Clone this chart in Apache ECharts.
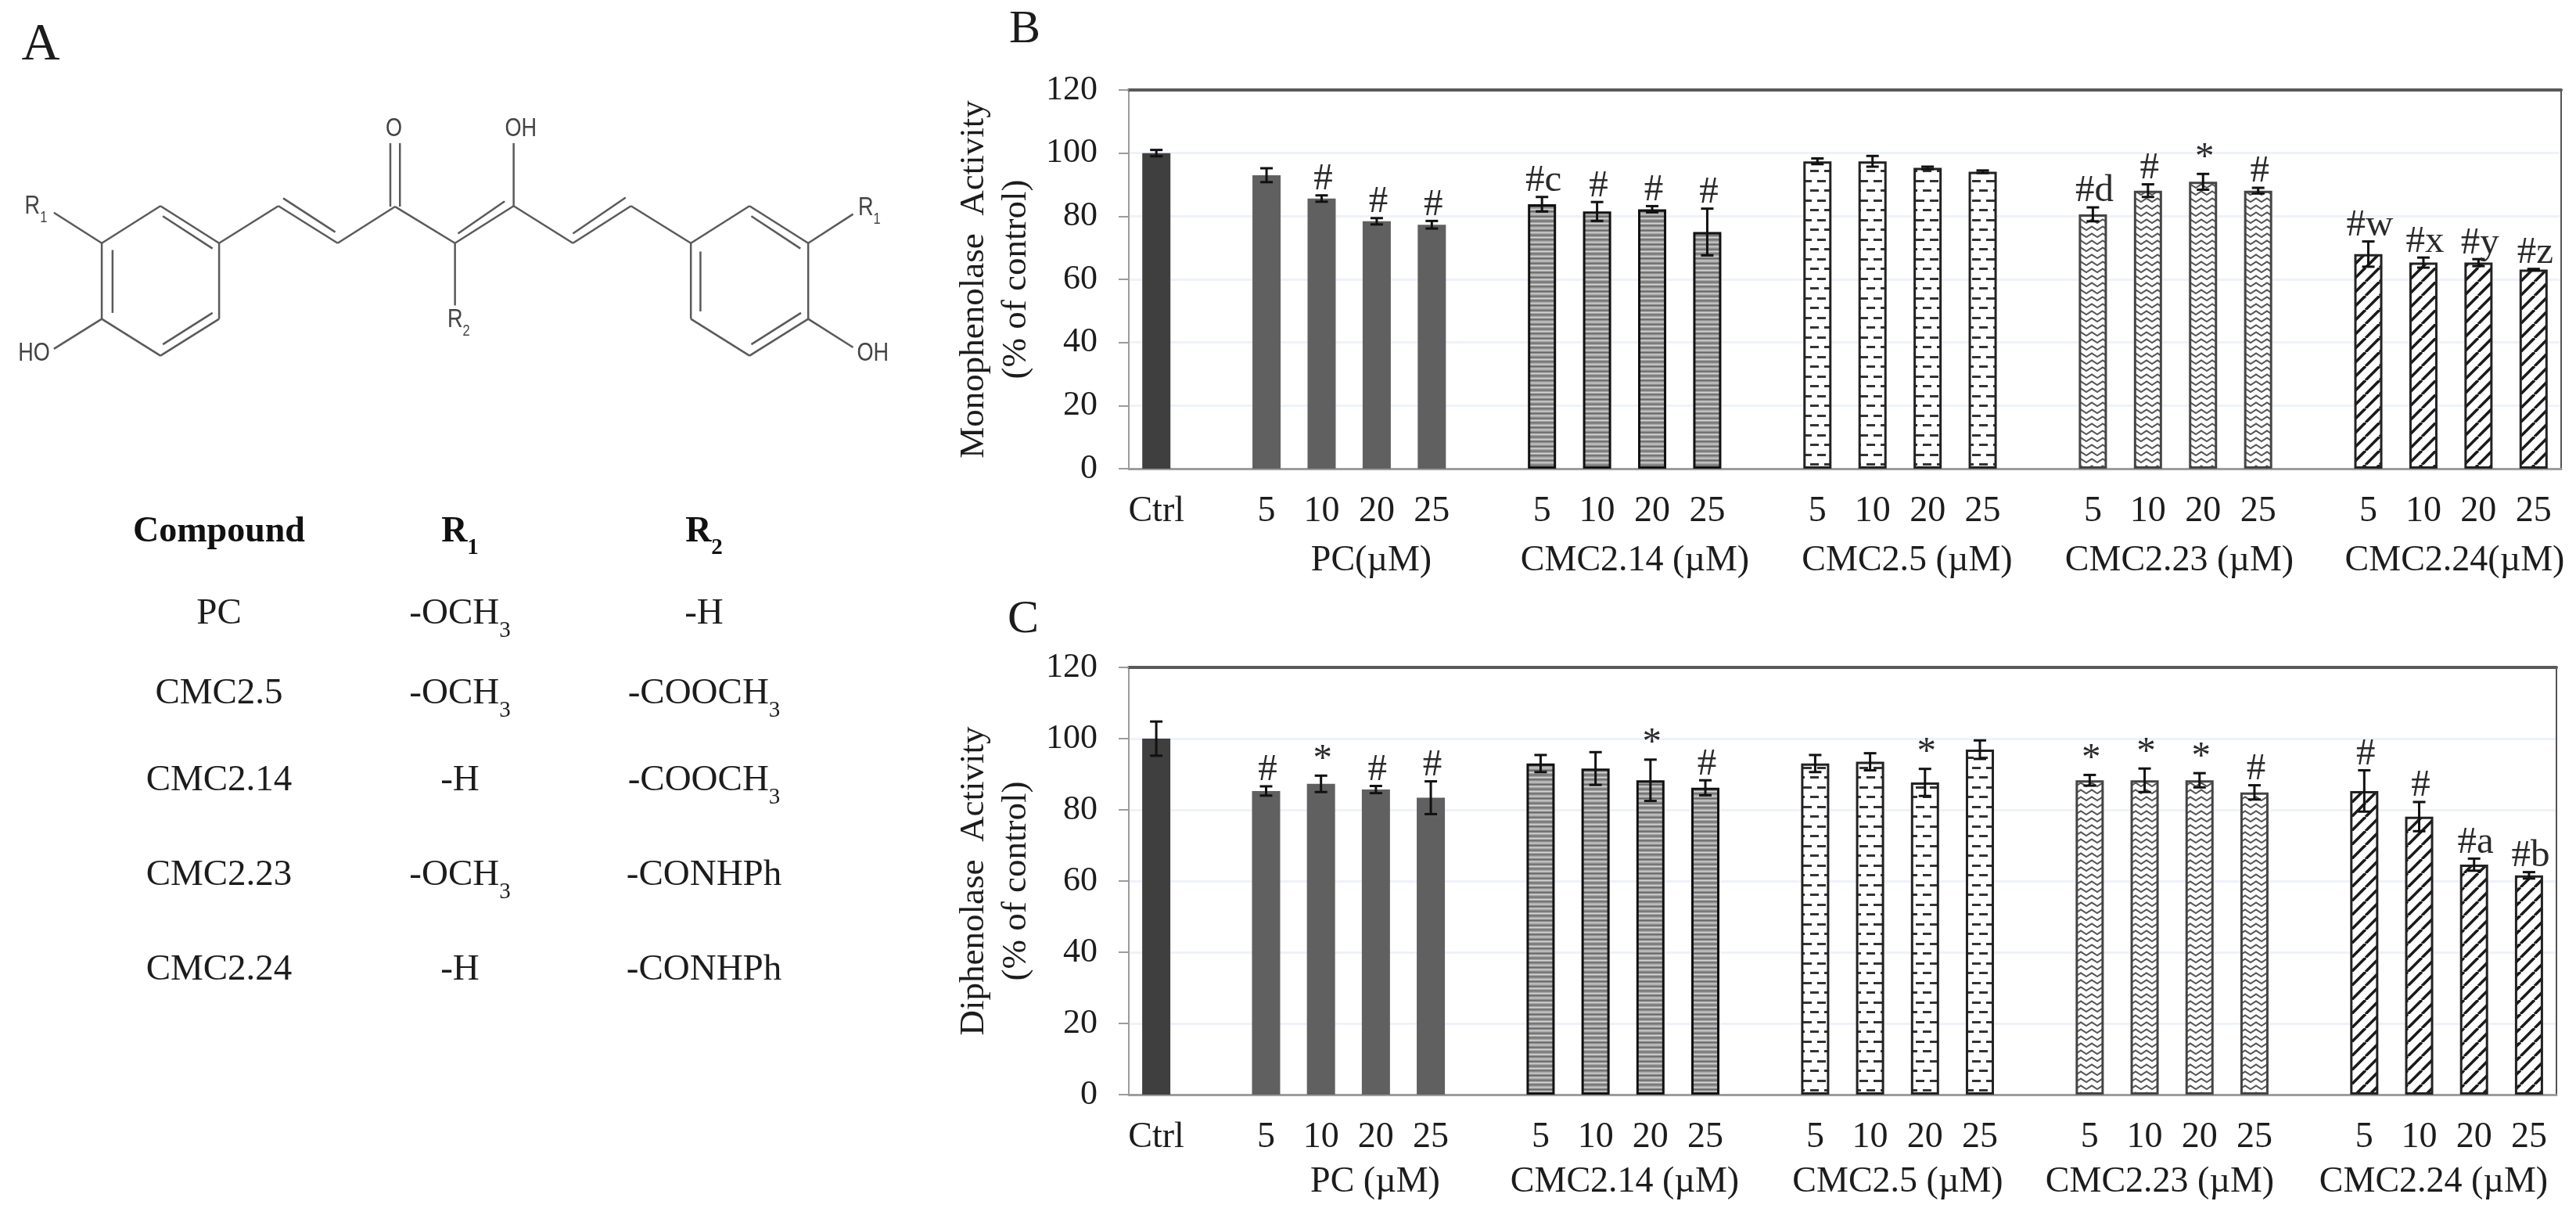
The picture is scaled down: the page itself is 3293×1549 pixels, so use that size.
<!DOCTYPE html>
<html>
<head>
<meta charset="utf-8">
<script src="https://cdn.jsdelivr.net/npm/echarts@6/dist/echarts.min.js"></script>
<style>
  html, body { margin: 0; padding: 0; background: #fff; }
  #main { width: 3293px; height: 1549px; }
</style>
</head>
<body>
<div id="main"></div>
<script>
// blanks are the empty slots between compound groups
const tickLabels = ['Ctrl', '', '5', '10', '20', '25', '', '5', '10', '20', '25', '', '5', '10', '20', '25', '', '5', '10', '20', '25', '', '5', '10', '20', '25']

const monoValues = [100, null, 93, 85.6, 78.4, 77.3, null, 83.8, 81.5, 82.2, 75, null, 97.4, 97.4, 95.3, 94.1, null, 80.6, 88.1, 90.9, 88.1, null, 68, 65.3, 65.3, 63.1]
const monoErrors = [1, null, 2.2, 1, 1, 1.2, null, 2.3, 3, 1, 7.4, null, 0.9, 1.7, 0.4, 0.4, null, 2.2, 2, 2.5, 0.9, null, 4, 1.6, 1.1, 0.2]
const monoMarks = ['', '', '', '#', '#', '#', '', '#c', '#', '#', '#', '', '', '', '', '', '', '#d', '#', '*', '#', '', '#w', '#x', '#y', '#z']

const diphValues = [100, null, 85.3, 87.3, 85.7, 83.4, null, 93, 91.6, 88.3, 86.2, null, 93, 93.5, 87.7, 96.9, null, 88.3, 88.3, 88.3, 84.9, null, 85.3, 78.1, 64.6, 61.6]
const diphErrors = [4.8, null, 1.3, 2.3, 1, 4.6, null, 2.4, 4.6, 5.8, 2.1, null, 2.4, 2.4, 3.8, 2.6, null, 1.5, 3.3, 2, 2, null, 5.8, 4.1, 1.7, 0.9]
const diphMarks = ['', '', '#', '*', '#', '#', '', '', '', '*', '#', '', '', '', '*', '', '', '*', '*', '*', '#', '', '#', '#', '#a', '#b']

const monoGroups = ['PC(µM)', 'CMC2.14 (µM)', 'CMC2.5 (µM)', 'CMC2.23 (µM)', 'CMC2.24(µM)']
const diphGroups = ['PC (µM)', 'CMC2.14 (µM)', 'CMC2.5 (µM)', 'CMC2.23 (µM)', 'CMC2.24 (µM)']

const tableHead = ['Compound', 'R1', 'R2']
const tableRows = [
  ['PC', '-OCH3', '-H'],
  ['CMC2.5', '-OCH3', '-COOCH3'],
  ['CMC2.14', '-H', '-COOCH3'],
  ['CMC2.23', '-OCH3', '-CONHPh'],
  ['CMC2.24', '-H', '-CONHPh']
]

const SERIF = '"Liberation Serif", serif'
const SANS = '"Liberation Sans", sans-serif'
const TEXT = '#1c1c1c'

// fill tiles for the bars
function tile (w, h, draw) {
  const c = document.createElement('canvas')
  c.width = w
  c.height = h
  const ctx = c.getContext('2d')
  ctx.fillStyle = '#fff'
  ctx.fillRect(0, 0, w, h)
  draw(ctx)
  return { image: c, repeat: 'repeat' }
}
const stripes = tile(4, 6, ctx => {
  ctx.fillStyle = '#9a9a9a'
  ctx.fillRect(0, 0, 4, 6)
  ctx.fillStyle = '#5c5c5c'
  ctx.fillRect(0, 0, 4, 1)
  ctx.fillStyle = '#dedede'
  ctx.fillRect(0, 3, 4, 1)
})
const dashes = tile(18, 25, ctx => {
  ctx.fillStyle = '#333'
  ctx.fillRect(1, 5, 11, 3)
  ctx.fillRect(10, 17, 8, 3)
  ctx.fillRect(0, 17, 3, 3)
})
const zigzag = tile(14, 9, ctx => {
  ctx.strokeStyle = '#555'
  ctx.lineWidth = 2
  ctx.beginPath()
  ctx.moveTo(-7, 6)
  ctx.lineTo(0, 1.5)
  ctx.lineTo(7, 6)
  ctx.lineTo(14, 1.5)
  ctx.lineTo(21, 6)
  ctx.stroke()
})
const diagonal = tile(18, 18, ctx => {
  ctx.strokeStyle = '#1a1a1a'
  ctx.lineWidth = 3.6
  for (let i = -18; i <= 36; i += 18) {
    ctx.beginPath()
    ctx.moveTo(i, 18)
    ctx.lineTo(i + 18, 0)
    ctx.stroke()
  }
})

function barStyle (i) {
  if (i === 0) return { color: '#3f3f3f' }
  if (i < 6) return { color: '#606060' }
  if (i < 11) return { color: stripes, borderColor: '#111', borderWidth: 3 }
  if (i < 16) return { color: dashes, borderColor: '#222', borderWidth: 3 }
  if (i < 21) return { color: zigzag, borderColor: '#444', borderWidth: 3 }
  return { color: diagonal, borderColor: '#222', borderWidth: 3 }
}

function barSeries (index, values) {
  return {
    type: 'bar',
    xAxisIndex: index * 2,
    yAxisIndex: index * 2,
    barWidth: 36,
    data: values.map((v, i) => v === null ? null : { value: v, itemStyle: barStyle(i) })
  }
}

function errorSeries (index, values, errors, marks) {
  return {
    type: 'custom',
    xAxisIndex: index * 2,
    yAxisIndex: index * 2,
    z: 5,
    silent: true,
    data: values.map((v, i) => [i, v]).filter(d => d[1] !== null),
    encode: { x: 0, y: 1 },
    renderItem: (params, api) => {
      const i = api.value(0)
      const top = api.coord([i, values[i] + errors[i]])
      const low = api.coord([i, values[i] - errors[i]])
      const line = { stroke: '#111', lineWidth: 3 }
      const children = [
        { type: 'line', shape: { x1: top[0], y1: top[1], x2: top[0], y2: low[1] }, style: line },
        { type: 'line', shape: { x1: top[0] - 8, y1: top[1], x2: top[0] + 8, y2: top[1] }, style: line },
        { type: 'line', shape: { x1: top[0] - 8, y1: low[1], x2: top[0] + 8, y2: low[1] }, style: line }
      ]
      if (marks[i]) {
        children.push({
          type: 'text',
          style: {
            text: marks[i],
            x: top[0] + 2,
            y: top[1] + 4,
            align: 'center',
            verticalAlign: 'bottom',
            font: '49px ' + SERIF,
            fill: '#2a2a2a'
          }
        })
      }
      return { type: 'group', children }
    }
  }
}

function xAxes (index) {
  return [
    {
      type: 'category',
      gridIndex: index,
      data: tickLabels,
      axisLine: { onZero: false, lineStyle: { color: '#9c9c9c', width: 3 } },
      axisTick: { interval: 0, length: 15, lineStyle: { color: '#8f8f8f', width: 2 } },
      axisLabel: { interval: 0, margin: 32, fontFamily: SERIF, fontSize: 46, color: TEXT }
    },
    {
      type: 'category',
      gridIndex: index,
      position: 'top',
      data: tickLabels,
      axisLine: { onZero: false, lineStyle: { color: '#5a5a5a', width: 4 } },
      axisTick: { show: false },
      axisLabel: { show: false }
    }
  ]
}

function yAxes (index, name) {
  return [
    {
      type: 'value',
      gridIndex: index,
      min: 0,
      max: 120,
      interval: 20,
      name,
      nameLocation: 'middle',
      nameRotate: 90,
      nameGap: 116,
      nameTextStyle: { fontFamily: SERIF, fontSize: 45, color: TEXT, lineHeight: 54 },
      axisLine: { show: true, lineStyle: { color: '#9c9c9c', width: 2 } },
      axisTick: { show: true, length: 13, lineStyle: { color: '#9c9c9c', width: 2 } },
      axisLabel: { margin: 40, fontFamily: SERIF, fontSize: 44, color: TEXT },
      splitLine: { lineStyle: { color: '#eef2fa', width: 3 } }
    },
    {
      type: 'value',
      gridIndex: index,
      position: 'right',
      min: 0,
      max: 120,
      interval: 20,
      axisLine: { show: true, lineStyle: { color: '#555', width: 2 } },
      axisTick: { show: false },
      axisLabel: { show: false },
      splitLine: { show: false }
    }
  ]
}

function label (text, x, y, size, extra) {
  return {
    type: 'text',
    x,
    y,
    style: Object.assign({
      text,
      align: 'center',
      verticalAlign: 'middle',
      font: size + 'px ' + SERIF,
      fill: TEXT
    }, extra)
  }
}

// '-OCH3' -> base text plus a lowered subscript digit
function subLabel (text, x, y, size, family, weight, fill) {
  const m = text.match(/^(.*?)(\d)$/)
  if (!m || text.startsWith('CMC')) return label(text, x, y, size, { font: (weight || '') + ' ' + size + 'px ' + family, fill })
  const big = Math.round(size * 1.25)
  return {
    type: 'text',
    x,
    y: y + size * 0.13,
    style: {
      text: '{t|' + m[1] + '}{s|' + m[2] + '}',
      align: 'center',
      verticalAlign: 'middle',
      rich: {
        t: { fontFamily: family, fontWeight: weight || 'normal', fontSize: size, lineHeight: big, verticalAlign: 'top', fill, color: fill },
        s: { fontFamily: family, fontWeight: weight || 'normal', fontSize: Math.round(size * 0.62), lineHeight: Math.round(size * 0.62), verticalAlign: 'bottom', fill, color: fill }
      }
    }
  }
}

const BOND = { stroke: '#5a5a5a', lineWidth: 2.5 }
const mx = v => v * 0.7653
const my = v => v * 0.3827
const bonds = [
  [170, 812, 268, 688], [268, 688, 366, 812], [366, 812, 366, 1065], [366, 1065, 268, 1188], [268, 1188, 170, 1065], [170, 1065, 170, 812],
  [188, 835, 188, 1045], [272, 722, 355, 830], [355, 1045, 272, 1150],
  [366, 812, 465, 688], [465, 688, 564, 812], [473, 662, 560, 775], [564, 812, 660, 690],
  [660, 690, 760, 812], [652, 690, 652, 478], [668, 690, 668, 478],
  [760, 812, 858, 688], [765, 780, 843, 672], [858, 688, 858, 478], [760, 812, 760, 1020],
  [858, 688, 957, 812], [957, 812, 1054, 688], [957, 780, 1045, 660], [1054, 688, 1154, 812],
  [1154, 812, 1252, 688], [1252, 688, 1350, 812], [1350, 812, 1350, 1065], [1350, 1065, 1252, 1188], [1252, 1188, 1154, 1065], [1154, 1065, 1154, 812],
  [1170, 840, 1170, 1040], [1255, 722, 1337, 830], [1338, 1045, 1255, 1150],
  [170, 812, 90, 710], [170, 1065, 90, 1165], [1350, 812, 1425, 715], [1350, 1065, 1425, 1160]
]
const atoms = [
  ['O', 658, 432], ['OH', 870, 432], ['R1', 60, 690], ['R1', 1452, 695], ['R2', 766, 1068], ['HO', 57, 1182], ['OH', 1458, 1182]
]

const tableX = [280, 588, 900]
const tableY = [785, 887, 998, 1119, 1240]
const monoGroupX = [1753, 2090, 2438, 2786, 3138]
const diphGroupX = [1758, 2077, 2426, 2761, 3111]

const graphics = [
  label('A', 52, 58, 68),
  label('B', 1310, 38, 60),
  label('C', 1308, 792, 60)
]
bonds.forEach(b => graphics.push({
  type: 'line',
  shape: { x1: mx(b[0]), y1: my(b[1]), x2: mx(b[2]), y2: my(b[3]) },
  style: BOND
}))
atoms.forEach(a => graphics.push(Object.assign(subLabel(a[0], mx(a[1]), my(a[2]), 33, SANS, '', '#444'), { scaleX: 0.82 })))
tableHead.forEach((t, c) => graphics.push(subLabel(t, tableX[c], 680, 46, SERIF, 'bold', '#111')))
tableRows.forEach((row, r) => row.forEach((t, c) => graphics.push(subLabel(t, tableX[c], tableY[r], 47, SERIF, '', TEXT))))
monoGroups.forEach((t, i) => graphics.push(label(t, monoGroupX[i], 717, 46)))
diphGroups.forEach((t, i) => graphics.push(label(t, diphGroupX[i], 1511, 46)))

const chart = echarts.init(document.getElementById('main'))
chart.setOption({
  animation: false,
  backgroundColor: '#fff',
  grid: [
    { left: 1443, right: 19, top: 115, height: 484 },
    { left: 1443, right: 25, top: 853, height: 546 }
  ],
  xAxis: [...xAxes(0), ...xAxes(1)],
  yAxis: [...yAxes(0, 'Monophenolase  Activity\n(% of control)'), ...yAxes(1, 'Diphenolase  Activity\n(% of control)')],
  series: [
    barSeries(0, monoValues),
    errorSeries(0, monoValues, monoErrors, monoMarks),
    barSeries(1, diphValues),
    errorSeries(1, diphValues, diphErrors, diphMarks)
  ],
  graphic: graphics
})
</script>
</body>
</html>
